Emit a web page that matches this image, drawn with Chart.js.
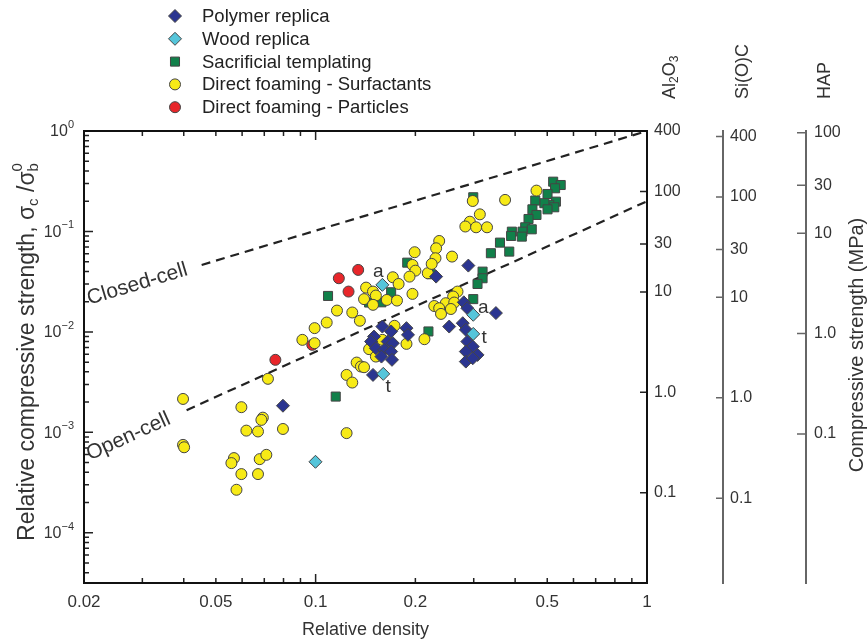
<!DOCTYPE html>
<html>
<head>
<meta charset="utf-8">
<script src="https://cdn.jsdelivr.net/npm/chart.js@4.4.1/dist/chart.umd.min.js"></script>
<style>
  html, body { margin: 0; padding: 0; background: #fff; }
  canvas { display: block; }
</style>
</head>
<body>
<canvas id="grafico" width="868" height="644"></canvas>
<script>
/* =====================================================
   Datos — resistencia relativa vs densidad relativa
===================================================== */

// Ejes
const X_MIN = 0.02, X_MAX = 1
const X_TICKS = [0.02, 0.05, 0.1, 0.2, 0.5, 1]
const X_TICK_LABELS = ["0.02", "0.05", "0.1", "0.2", "0.5", "1"]
const Y_MIN = Math.pow(10, -4.5), Y_MAX = 1
const Y_DECADES = [1e-4, 1e-3, 1e-2, 1e-1, 1]
const Y_EXPONENTS = ["\u22124", "\u22123", "\u22122", "\u22121", "0"]

// Escalas de la derecha (MPa)
const AL_MAX = 400
const AL_TICKS = [0.1, 1, 10, 30, 100, 400]
const AL_LABELS = ["0.1", "1.0", "10", "30", "100", "400"]
const SI_MAX = 453
const SI_TICKS = [0.1, 1, 10, 30, 100, 400]
const SI_LABELS = ["0.1", "1.0", "10", "30", "100", "400"]
const HAP_MAX = 104
const HAP_TICKS = [0.1, 1, 10, 30, 100]
const HAP_LABELS = ["0.1", "1.0", "10", "30", "100"]

// Series
const polymerX = [0.0797, 0.149, 0.159, 0.169, 0.188, 0.190, 0.150, 0.147, 0.165, 0.171, 0.152, 0.161, 0.169, 0.158, 0.170,
  0.231, 0.289, 0.280, 0.287, 0.350, 0.253, 0.278, 0.284, 0.287, 0.298, 0.308, 0.284, 0.284, 0.298]
const polymerY = [0.00184, 0.00373, 0.0113, 0.0101, 0.0109, 0.00934, 0.00898, 0.00801, 0.00801, 0.00772, 0.00688, 0.00662, 0.00637, 0.00568, 0.00527,
  0.0355, 0.0457, 0.0197, 0.0172, 0.0154, 0.0113, 0.0122, 0.0105, 0.00801, 0.00714, 0.0059, 0.00637, 0.00506, 0.00547]

const woodX = [0.159, 0.160, 0.299, 0.299, 0.0999]
const woodY = [0.0294, 0.00382, 0.0148, 0.00955, 0.000509]

const sacrX = [0.109, 0.169, 0.145, 0.158, 0.189, 0.223, 0.219, 0.155, 0.115, 0.299, 0.319, 0.319, 0.308, 0.299,
  0.521, 0.549, 0.528, 0.501, 0.531, 0.507, 0.490, 0.460, 0.525, 0.501, 0.451, 0.464, 0.439, 0.429, 0.449, 0.421,
  0.391, 0.389, 0.419, 0.360, 0.338, 0.384]
const sacrY = [0.0228, 0.0248, 0.0196, 0.0197, 0.0489, 0.0375, 0.0101, 0.00637, 0.00227, 0.219, 0.0398, 0.0342, 0.0300, 0.0212,
  0.313, 0.290, 0.269, 0.236, 0.198, 0.184, 0.191, 0.203, 0.174, 0.166, 0.166, 0.146, 0.133, 0.110, 0.105, 0.0995,
  0.0995, 0.0902, 0.0888, 0.0774, 0.0607, 0.0630]

const surfX = [0.0398, 0.0398, 0.0401, 0.0597, 0.0693, 0.0686, 0.0618, 0.0670, 0.0797, 0.0718, 0.0567, 0.0557, 0.0678, 0.0710,
  0.0597, 0.0670, 0.0577, 0.124, 0.0912, 0.0993, 0.0993, 0.108, 0.116, 0.129, 0.136, 0.124, 0.129, 0.133, 0.137, 0.140,
  0.145, 0.152, 0.159, 0.173, 0.188, 0.213, 0.142, 0.149, 0.152, 0.140, 0.164, 0.176, 0.149, 0.171, 0.178, 0.196,
  0.199, 0.196, 0.200, 0.192, 0.218, 0.236, 0.231, 0.230, 0.224, 0.258, 0.268, 0.260, 0.247, 0.262, 0.228, 0.236,
  0.239, 0.256, 0.298, 0.373, 0.313, 0.292, 0.283, 0.305, 0.329, 0.464]
const surfY = [0.00215, 0.00075, 0.00071, 0.00178, 0.00140, 0.00133, 0.00104, 0.00102, 0.00108, 0.00341, 0.000554, 0.000494, 0.000541, 0.000597,
  0.000384, 0.000384, 0.000268, 0.000982, 0.00833, 0.00772, 0.0109, 0.0124, 0.0163, 0.0156, 0.0129, 0.00373, 0.00313, 0.00495, 0.00452, 0.00445,
  0.00673, 0.00568, 0.00833, 0.0115, 0.0076, 0.00846, 0.0276, 0.0252, 0.0230, 0.0212, 0.0208, 0.0205, 0.0186, 0.0350, 0.0300, 0.0239,
  0.0621, 0.0464, 0.0407, 0.0355, 0.0384, 0.0804, 0.0680, 0.0541, 0.0475, 0.0562, 0.0252, 0.0225, 0.0193, 0.0196, 0.0181, 0.0172,
  0.0151, 0.0169, 0.201, 0.206, 0.148, 0.125, 0.112, 0.110, 0.110, 0.255]

const partX = [0.0756, 0.0977, 0.1175, 0.1344, 0.1257]
const partY = [0.00527, 0.00743, 0.0342, 0.0414, 0.0252]

// Rectas de referencia (Gibson-Ashby)
const closedX = [0.0453, 1]
const closedY = [0.0464, 1]
const openX = [0.0408, 1]
const openY = [0.00166, 0.2]
const LINE_LABEL_RHO = 0.0205

// Etiquetas a / t sobre los puntos de madera
const ANNO_TEXT = ["a", "t", "a", "t"]
const ANNO_POINT = [0, 1, 2, 3]
const ANNO_OFFSET = [[-4, -13], [5, 13], [10, -7], [11, 4]]

const FONT = "'Liberation Sans', Arial, Helvetica, sans-serif"
const TXT = "#333"

const SERIES = [
  { label: "Polymer replica", xs: polymerX, ys: polymerY, color: "#2b3590", style: "rectRot", radius: 6.5, order: 2 },
  { label: "Wood replica", xs: woodX, ys: woodY, color: "#55c5da", style: "rectRot", radius: 6.5, order: 1 },
  { label: "Sacrificial templating", xs: sacrX, ys: sacrY, color: "#11804a", style: "rect", radius: 6.4, order: 4 },
  { label: "Direct foaming - Surfactants", xs: surfX, ys: surfY, color: "#f7ea16", style: "circle", radius: 5.5, order: 3 },
  { label: "Direct foaming - Particles", xs: partX, ys: partY, color: "#e8262a", style: "circle", radius: 5.5, order: 5 },
]

const puntos = (xs, ys) => xs.map((x, i) => ({ x, y: ys[i] }))

/* =====================================================
   Marco, marcas interiores, leyenda y textos
===================================================== */
function marcasLog(min, max) {
  const out = []
  for (let e = -6; e <= 3; e++) {
    for (let k = 1; k <= 9; k++) {
      const v = k * Math.pow(10, e)
      if (v > min * 1.0001 && v < max * 0.9999) out.push({ v, major: k === 1 })
    }
  }
  return out
}

function textoRico(ctx, partes, x, y) {
  // partes: [texto, tamaño, desplazamiento vertical, avanza?]
  let cx = x
  for (const [t, size, dy, avanza] of partes) {
    ctx.font = size + "px " + FONT
    ctx.fillText(t, cx, y + dy)
    if (avanza !== false) cx += ctx.measureText(t).width
  }
  return cx - x
}

function anchoRico(ctx, partes) {
  let w = 0
  for (const [t, size, , avanza] of partes) {
    ctx.font = size + "px " + FONT
    if (avanza !== false) w += ctx.measureText(t).width
  }
  return w
}

const marco = {
  id: "marco",
  beforeDatasetsDraw(chart) {
    const { ctx, chartArea: a } = chart
    const { x, y, yAl, ySi, yHap } = chart.scales
    ctx.save()
    ctx.strokeStyle = "#222"
    ctx.lineWidth = 1.5
    ctx.beginPath()
    for (const m of marcasLog(X_MIN, X_MAX)) {
      const px = x.getPixelForValue(m.v)
      const len = m.major ? 9 : 5
      ctx.moveTo(px, a.bottom); ctx.lineTo(px, a.bottom - len)
      ctx.moveTo(px, a.top); ctx.lineTo(px, a.top + len)
    }
    for (const m of marcasLog(Y_MIN, Y_MAX)) {
      const py = y.getPixelForValue(m.v)
      ctx.moveTo(a.left, py); ctx.lineTo(a.left + (m.major ? 9 : 5), py)
    }
    for (const v of AL_TICKS) {
      const py = yAl.getPixelForValue(v)
      ctx.moveTo(a.right, py); ctx.lineTo(a.right - 7, py)
    }
    ctx.stroke()

    ctx.strokeStyle = "#666"
    ctx.beginPath()
    for (const v of SI_TICKS) {
      const py = ySi.getPixelForValue(v)
      ctx.moveTo(ySi.left, py); ctx.lineTo(ySi.left - 7, py)
    }
    for (const v of HAP_TICKS) {
      const py = yHap.getPixelForValue(v)
      ctx.moveTo(yHap.left, py); ctx.lineTo(yHap.left - 9, py)
    }
    ctx.stroke()

    ctx.strokeStyle = "#111"
    ctx.lineWidth = 2
    ctx.strokeRect(a.left, a.top, a.right - a.left, a.bottom - a.top)
    ctx.restore()
  },

  afterDraw(chart) {
    const { ctx, chartArea: a } = chart
    const { x, y } = chart.scales
    ctx.save()
    ctx.fillStyle = TXT
    ctx.textBaseline = "middle"

    // Etiquetas 10^n del eje izquierdo
    Y_DECADES.forEach((v, i) => {
      const py = y.getPixelForValue(v)
      const partes = [["10", 16, 1], [Y_EXPONENTS[i], 11, -6]]
      const w = anchoRico(ctx, partes)
      textoRico(ctx, partes, a.left - 10 - w, py)
    })

    // Título eje izquierdo
    ctx.save()
    ctx.translate(28, 352)
    ctx.rotate(-Math.PI / 2)
    const titulo = [
      ["Relative compressive strength, \u03c3", 23, 0], ["c", 15, 6], [" /\u03c3", 23, 0],
      ["0", 15, -10, false], ["b", 15, 6],
    ]
    textoRico(ctx, titulo, -anchoRico(ctx, titulo) / 2, 0)
    ctx.restore()

    // Títulos de las escalas de la derecha
    const rotado = (partes, cx, cy) => {
      ctx.save()
      ctx.translate(cx, cy)
      ctx.rotate(-Math.PI / 2)
      textoRico(ctx, partes, 0, 0)
      ctx.restore()
    }
    rotado([["Al", 18, 0], ["2", 12, 5], ["O", 18, 0], ["3", 12, 5]], 670, 99)
    rotado([["Si(O)C", 18, 0]], 743, 99)
    rotado([["HAP", 18, 0]], 825, 99)
    ctx.save()
    ctx.translate(857, 345)
    ctx.rotate(-Math.PI / 2)
    ctx.textAlign = "center"
    ctx.font = "20px " + FONT
    ctx.fillText("Compressive strength (MPa)", 0, 0)
    ctx.restore()

    // Rótulos de las rectas
    const rotuloRecta = (xs, ys, texto) => {
      const x0 = x.getPixelForValue(xs[0]), y0 = y.getPixelForValue(ys[0])
      const x1 = x.getPixelForValue(xs[1]), y1 = y.getPixelForValue(ys[1])
      const ang = Math.atan2(y1 - y0, x1 - x0)
      const px = x.getPixelForValue(LINE_LABEL_RHO)
      const py = y0 + (px - x0) * Math.tan(ang)
      ctx.save()
      ctx.translate(px, py)
      ctx.rotate(ang)
      ctx.font = "21px " + FONT
      ctx.fillText(texto, 0, 0)
      ctx.restore()
    }
    rotuloRecta(closedX, closedY, "Closed-cell")
    rotuloRecta(openX, openY, "Open-cell")

    // a / t
    ctx.font = "19px " + FONT
    ctx.textAlign = "center"
    ANNO_TEXT.forEach((t, i) => {
      const k = ANNO_POINT[i]
      const px = x.getPixelForValue(woodX[k]) + ANNO_OFFSET[i][0]
      const py = y.getPixelForValue(woodY[k]) + ANNO_OFFSET[i][1]
      ctx.fillText(t, px, py)
    })

    // Leyenda
    ctx.textAlign = "left"
    SERIES.forEach((s, i) => {
      const ly = 16 + i * 22.8
      ctx.fillStyle = s.color
      ctx.strokeStyle = "#444"
      ctx.lineWidth = 1
      Chart.helpers.drawPoint(ctx, { pointStyle: s.style, radius: s.radius, rotation: 0, borderWidth: 1 }, 175, ly)
      ctx.fillStyle = "#222"
      ctx.font = "18.5px " + FONT
      ctx.fillText(s.label, 202, ly + 1)
    })
    ctx.restore()
  }
}

/* =====================================================
   Gráfico
===================================================== */
const ejeDerecho = (max, ticks, labels, ancho, peso, borde, padding) => ({
  type: "logarithmic",
  position: "right",
  weight: peso,
  min: max * Y_MIN,
  max: max,
  afterBuildTicks: s => { s.ticks = ticks.map(v => ({ value: v })) },
  afterFit: s => { s.width = ancho },
  grid: { drawOnChartArea: false, drawTicks: false },
  border: { display: borde, color: "#666", width: 2 },
  ticks: {
    callback: (v, i) => labels[i],
    padding: padding,
    font: { size: 16, family: FONT },
    color: TXT,
    autoSkip: false,
  },
})

const datasets = SERIES.map(s => ({
  label: s.label,
  data: puntos(s.xs, s.ys),
  backgroundColor: s.color,
  borderColor: "#444",
  borderWidth: 1,
  pointStyle: s.style,
  pointRadius: s.radius,
  order: s.order,
}))

const recta = (xs, ys, nombre) => ({
  label: nombre,
  data: puntos(xs, ys),
  showLine: true,
  borderColor: "#222",
  borderWidth: 2.2,
  borderDash: [9, 6],
  pointRadius: 0,
  order: 10,
})
datasets.push(recta(closedX, closedY, "Closed-cell"), recta(openX, openY, "Open-cell"))

new Chart(document.getElementById("grafico"), {
  type: "scatter",
  data: { datasets },
  options: {
    responsive: false,
    animation: false,
    devicePixelRatio: 1,
    layout: { padding: { top: 131, left: 0, right: 0, bottom: 0 } },
    plugins: { legend: { display: false }, tooltip: { enabled: false } },
    scales: {
      x: {
        type: "logarithmic",
        min: X_MIN,
        max: X_MAX,
        afterBuildTicks: s => { s.ticks = X_TICKS.map(v => ({ value: v })) },
        afterFit: s => { s.height = 61 },
        grid: { drawOnChartArea: false, drawTicks: false },
        border: { display: false },
        ticks: {
          callback: (v, i) => X_TICK_LABELS[i],
          font: { size: 17, family: FONT },
          color: TXT,
          padding: 9,
          maxRotation: 0,
          autoSkip: false,
        },
        title: {
          display: true,
          text: "Relative density",
          font: { size: 18, family: FONT },
          color: TXT,
          padding: { top: 0, bottom: 3 },
        },
      },
      y: {
        type: "logarithmic",
        min: Y_MIN,
        max: Y_MAX,
        afterBuildTicks: s => { s.ticks = Y_DECADES.map(v => ({ value: v })) },
        afterFit: s => { s.width = 84 },
        grid: { drawOnChartArea: false, drawTicks: false },
        border: { display: false },
        ticks: { display: false },
      },
      yAl: ejeDerecho(AL_MAX, AL_TICKS, AL_LABELS, 76, 1, false, 7),
      ySi: ejeDerecho(SI_MAX, SI_TICKS, SI_LABELS, 83, 2, true, 7),
      yHap: ejeDerecho(HAP_MAX, HAP_TICKS, HAP_LABELS, 62, 3, true, 8),
    },
  },
  plugins: [marco],
})
</script>
</body>
</html>
